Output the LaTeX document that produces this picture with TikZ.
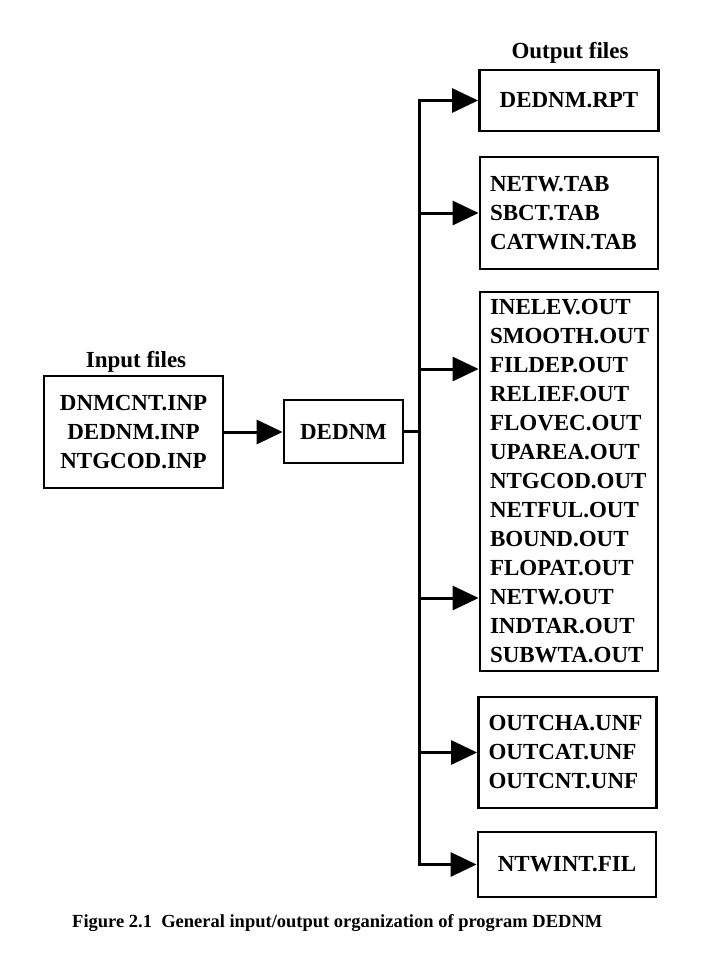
\documentclass[tikz,border=0pt]{standalone}
\usepackage{fontspec}
\setmainfont{Liberation Serif}
\usetikzlibrary{arrows.meta, positioning}
\tikzset{
	filebox/.style={draw, line width=2.8pt, font=\bfseries\fontsize{23}{29}\selectfont, inner sep=0pt},
	lbox/.style={filebox, align=left, text width=158pt, inner xsep=10pt},
	cbox/.style={filebox, align=center},
	farr/.style={-{Triangle[length=26pt, width=24pt]}, line width=3pt},
	fline/.style={line width=3pt, line cap=rect},
	ftitle/.style={font=\bfseries\fontsize{23}{28}\selectfont, anchor=base, inner sep=0pt}
}

\begin{document}
\begin{tikzpicture}[x=1pt, y=-1pt]
	\useasboundingbox (0,0) rectangle (719,959);
	% input side
	\node[cbox, minimum width=179pt, minimum height=112pt] (inp) at (133.5,432) {DNMCNT.INP\\DEDNM.INP\\NTGCOD.INP};
	\node[ftitle] (inlbl) at (136,367) {Input files};
	\node[cbox, minimum width=119pt, minimum height=63pt] (dednm) at (343.5,431.5) {DEDNM};
	% output side
	\node[ftitle] (outlbl) at (570,58) {Output files};
	\node[cbox, minimum width=179pt, minimum height=61pt] (rpt) at (569,100.5) {DEDNM.RPT};
	\node[lbox, minimum height=112pt] (tab) at (569,213) {NETW.TAB\\SBCT.TAB\\CATWIN.TAB};
	\node[lbox, minimum height=379pt] (out) at (569,481.5) {INELEV.OUT\\SMOOTH.OUT\\FILDEP.OUT\\RELIEF.OUT\\FLOVEC.OUT\\UPAREA.OUT\\NTGCOD.OUT\\NETFUL.OUT\\BOUND.OUT\\FLOPAT.OUT\\NETW.OUT\\INDTAR.OUT\\SUBWTA.OUT};
	\node[lbox, minimum height=111pt] (unf) at (567.5,752.5) {OUTCHA.UNF\\OUTCAT.UNF\\OUTCNT.UNF};
	\node[cbox, minimum width=178pt, minimum height=65pt] (fil) at (567,864.5) {NTWINT.FIL};
	\node[anchor=base west, inner sep=0pt, font=\bfseries\fontsize{18.5}{22}\selectfont] (cap) at (72,927) {Figure 2.1\enspace General input/output organization of program DEDNM};
	% connectors
	\coordinate (bus) at (419,432);
	\coordinate (outa) at ([yshift=112.5pt]out.west);
	\coordinate (outb) at ([yshift=-116.5pt]out.west);
	\draw[farr] (inp.east) -- (inp.east -| dednm.west);
	\draw[fline] (dednm.east) -- (dednm.east -| bus);
	\draw[fline] (bus |- rpt.west) -- (bus |- fil.west);
	\foreach \t in {rpt, tab, outa, outb, unf, fil}
		\draw[farr] (bus |- \t) -- (\t);
\end{tikzpicture}
\end{document}
